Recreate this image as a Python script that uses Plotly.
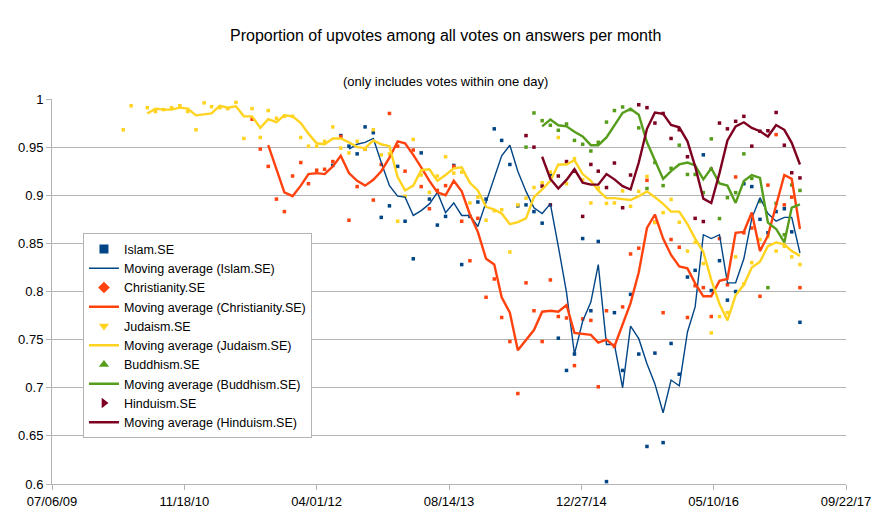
import pandas as pd
import plotly.graph_objects as go

# ---------------- data (monthly proportions) ----------------
tick_dates = ["2009-07-06", "2010-11-18", "2012-04-01", "2013-08-14",
              "2014-12-27", "2016-05-10", "2017-09-22"]
tick_labels = ["07/06/09", "11/18/10", "04/01/12", "08/14/13",
               "12/27/14", "05/10/16", "09/22/17"]

islam_start = "2012-06-01"
islam = [0.931, 0.962, 0.951, 0.943, 0.971, 0.965, 0.877, 0.889, 0.930, 0.873,
         0.834, 0.944, 0.896, 0.869, 0.878, 0.931, 0.828, 0.878, 0.893, 0.896,
         0.969, 0.957, 0.932, 0.889, 0.890, 0.883, 0.871, 0.921, 0.7515, 0.718,
         0.735, 0.855, 0.780, 0.852, 0.6025, 0.778, 0.718, 0.797, 0.735, 0.639,
         0.736, 0.643, 0.746, 0.714, 0.815, 0.822, 0.942, 0.801, 0.832, 0.791,
         0.800, 0.912, 0.909, 0.875, 0.861, 0.883, 0.886, 0.862, 0.768]
islam_ma_start = "2012-08-01"
islam_ma = [0.948, 0.953, 0.955, 0.959, 0.934, 0.910, 0.899, 0.898, 0.879, 0.884,
            0.891, 0.903, 0.882, 0.892, 0.879, 0.879, 0.8675, 0.893, 0.919, 0.941,
            0.952, 0.925, 0.904, 0.887, 0.881, 0.891, 0.847, 0.799, 0.735, 0.769,
            0.789, 0.828, 0.745, 0.745, 0.700, 0.764, 0.751, 0.725, 0.704, 0.674,
            0.708, 0.702, 0.758, 0.784, 0.859, 0.855, 0.859, 0.809, 0.809, 0.834,
            0.876, 0.8975, 0.881, 0.873, 0.877, 0.877, 0.840]

christianity_start = "2011-08-01"
christianity = [0.979, 0.948, 0.930, 0.896, 0.883, 0.920, 0.934, 0.912, 0.926, 0.927,
                0.935, 0.961, 0.874, 0.909, 0.948, 0.895, 0.932, 0.985, 0.951, 0.925,
                0.947, 0.909, 0.886, 0.905, 0.910, 0.930, 0.873, 0.832, 0.876, 0.794,
                0.813, 0.773, 0.748, 0.694, 0.809, 0.780, 0.748, 0.812, 0.774, 0.7725,
                0.723, 0.7715, 0.770, 0.701, 0.780, 0.743, 0.784, 0.839, 0.845, 0.9155,
                0.872, 0.778, 0.854, 0.846, 0.773, 0.806, 0.804, 0.774, 0.855, 0.807,
                0.919, 0.861, 0.866, 0.795, 0.9105, 0.963, 0.890, 0.898, 0.804]
christianity_ma_start = "2011-10-01"
christianity_ma = [0.952, 0.927, 0.903, 0.899, 0.910, 0.922, 0.923, 0.922, 0.930, 0.941,
                   0.923, 0.915, 0.910, 0.916, 0.925, 0.939, 0.956, 0.954, 0.942, 0.929,
                   0.915, 0.903, 0.900, 0.915, 0.904, 0.880, 0.862, 0.834, 0.828, 0.794,
                   0.778, 0.739, 0.750, 0.760, 0.779, 0.780, 0.779, 0.786, 0.757, 0.756,
                   0.755, 0.747, 0.750, 0.743, 0.765, 0.788, 0.820, 0.866, 0.880, 0.855,
                   0.838, 0.826, 0.824, 0.8085, 0.795, 0.795, 0.811, 0.813, 0.861, 0.862,
                   0.882, 0.842, 0.858, 0.890, 0.921, 0.917, 0.865]

judaism_start = "2010-04-01"
judaism = [0.968, 0.993, None, 0.991, 0.987, 0.989, 0.991, 0.993, 0.987, 0.968,
           0.996, 0.992, 0.991, 0.990, 0.9965, 0.959, 0.990, 0.960, 0.988, 0.980,
           0.982, 0.982, 0.960, 0.951, 0.951, 0.956, 0.971, 0.949, 0.944, 0.956,
           0.948, 0.968, 0.942, 0.943, 0.873, 0.899, 0.958, 0.921, 0.903, 0.920,
           0.940, 0.923, 0.924, 0.892, 0.898, 0.874, 0.884, 0.885, 0.841, 0.890,
           0.897, 0.908, 0.913, 0.924, 0.960, 0.912, 0.938, 0.916, 0.892, 0.9075,
           0.8915, 0.892, 0.9045, 0.8885, 0.904, 0.9195, 0.8716, 0.882, 0.8957, 0.872,
           0.842, 0.851, 0.829, 0.757, 0.774, 0.778, 0.836, 0.808, 0.830, 0.854,
           0.857, 0.842, 0.847, 0.836, 0.828]
judaism_ma_start = "2010-07-01"
judaism_ma = [0.985, 0.990, 0.989, 0.989, 0.991, 0.990, 0.983, 0.984, 0.985, 0.993,
              0.991, 0.9925, 0.982, 0.982, 0.970, 0.979, 0.976, 0.983, 0.982, 0.975,
              0.964, 0.954, 0.953, 0.959, 0.959, 0.955, 0.950, 0.949, 0.957, 0.953,
              0.951, 0.919, 0.905, 0.910, 0.926, 0.927, 0.915, 0.921, 0.928, 0.929,
              0.913, 0.905, 0.888, 0.885, 0.881, 0.870, 0.872, 0.876, 0.898, 0.906,
              0.915, 0.932, 0.932, 0.9365, 0.922, 0.915, 0.905, 0.897, 0.897, 0.896,
              0.895, 0.899, 0.904, 0.898, 0.891, 0.883, 0.883, 0.870, 0.855, 0.841,
              0.812, 0.787, 0.770, 0.796, 0.807, 0.825, 0.831, 0.847, 0.851, 0.849,
              0.842, 0.837]

buddhism_start = "2014-06-01"
buddhism = [0.950, 0.9855, 0.9775, 0.9727, 0.9675, 0.974, 0.957, 0.953, 0.946, 0.955,
            0.976, 0.988, 0.9917, 0.989, 0.970, 0.907, 0.934, 0.910, 0.928, 0.952,
            0.9216, 0.9216, 0.9027, 0.9586, 0.8758, 0.8975, 0.9027, 0.943, 0.9175, 0.8935,
            0.804, 0.8916, 0.859, 0.9106, 0.905]
buddhism_ma_start = "2014-08-01"
buddhism_ma = [0.9716, 0.9786, 0.9727, 0.9716, 0.966, 0.961, 0.952, 0.952, 0.960, 0.973,
               0.9855, 0.9896, 0.9837, 0.955, 0.936, 0.917, 0.925, 0.932, 0.934, 0.931,
               0.9165, 0.928, 0.9123, 0.910, 0.892, 0.9147, 0.921, 0.918, 0.8716, 0.865,
               0.851, 0.8872, 0.8906]

hinduism_start = "2014-06-01"
hinduism = [0.962, 0.950, 0.9095, 0.890, 0.920, 0.935, 0.925, 0.878, 0.932, 0.925,
            0.908, 0.9335, 0.887, 0.921, 0.994, 0.991, 0.975, 0.985, 0.959, 0.968,
            0.940, 0.876, 0.8727, 0.927, 0.975, 0.969, 0.9768, 0.982, 0.951, 0.9665,
            0.967, 0.986, 0.952, 0.9234, 0.918]
hinduism_ma_start = "2014-08-01"
hinduism_ma = [0.940, 0.917, 0.907, 0.916, 0.927, 0.913, 0.911, 0.911, 0.922, 0.9165,
               0.9095, 0.906, 0.934, 0.969, 0.986, 0.9845, 0.973, 0.9706, 0.956, 0.930,
               0.8965, 0.892, 0.923, 0.957, 0.9716, 0.9758, 0.970, 0.9665, 0.961, 0.973,
               0.968, 0.9545, 0.932]

series = [
    ("Islam.SE", islam_start, islam, islam_ma_start, islam_ma, "#004586", "square", 1.4),
    ("Christianity.SE", christianity_start, christianity, christianity_ma_start, christianity_ma, "#ff420e", "diamond", 2.4),
    ("Judaism.SE", judaism_start, judaism, judaism_ma_start, judaism_ma, "#ffd320", "triangle-down", 2.4),
    ("Buddhism.SE", buddhism_start, buddhism, buddhism_ma_start, buddhism_ma, "#579d1c", "triangle-up", 2.4),
    ("Hinduism.SE", hinduism_start, hinduism, hinduism_ma_start, hinduism_ma, "#7e0021", "triangle-right", 2.4),
]


def months_from(start, n):
    return list(pd.date_range(start, periods=n, freq="MS"))


fig = go.Figure()

# data marks
for name, s0, vals, m0, ma, color, sym, lw in series:
    fig.add_trace(go.Scatter(x=months_from(s0, len(vals)), y=vals, mode="markers",
                             marker=dict(symbol="square", size=3.5, color=color,
                                         line=dict(width=0)),
                             showlegend=False, hoverinfo="skip"))
for name, s0, vals, m0, ma, color, sym, lw in series:
    fig.add_trace(go.Scatter(x=months_from(m0, len(ma)), y=ma, mode="lines",
                             line=dict(color=color, width=lw),
                             showlegend=False, hoverinfo="skip"))

# legend entries
for name, s0, vals, m0, ma, color, sym, lw in series:
    fig.add_trace(go.Scatter(x=[None], y=[None], mode="markers", name=name,
                             marker=dict(symbol=sym, size=9, color=color)))
    fig.add_trace(go.Scatter(x=[None], y=[None], mode="lines",
                             name="Moving average (%s)" % name,
                             line=dict(color=color, width=lw)))

grid = "#b3b3b3"
fig.update_layout(
    width=889, height=521,
    margin=dict(l=52, r=43, t=99, b=35),
    paper_bgcolor="white", plot_bgcolor="white",
    font=dict(family="Liberation Sans, Arial, sans-serif", size=13, color="#000000"),
    showlegend=True,
    legend=dict(x=0.039, y=0.651, xanchor="left", yanchor="top",
                bgcolor="white", bordercolor=grid, borderwidth=1,
                font=dict(size=12.5), traceorder="normal", tracegroupgap=0),
    annotations=[
        dict(text="Proportion of upvotes among all votes on answers per month",
             xref="paper", yref="paper", x=0.496, y=1.1654, xanchor="center",
             yanchor="middle", showarrow=False, font=dict(size=16)),
        dict(text="(only includes votes within one day)",
             xref="paper", yref="paper", x=0.496, y=1.0465, xanchor="center",
             yanchor="middle", showarrow=False, font=dict(size=13)),
    ],
)
fig.update_xaxes(type="date", range=[tick_dates[0], tick_dates[-1]],
                 tickvals=tick_dates, ticktext=tick_labels,
                 showgrid=False, zeroline=False, showline=True, linecolor=grid,
                 ticks="outside", ticklen=5, tickcolor=grid)
fig.update_yaxes(range=[0.6, 1.0], tick0=0.6, dtick=0.05,
                 showgrid=True, gridcolor=grid, zeroline=False,
                 showline=True, linecolor=grid,
                 ticks="outside", ticklen=5, tickcolor=grid)

fig.write_html("out.html", config={"displayModeBar": False},
               post_script="document.body.style.margin='0px';"
                           "document.body.style.overflow='hidden';")
